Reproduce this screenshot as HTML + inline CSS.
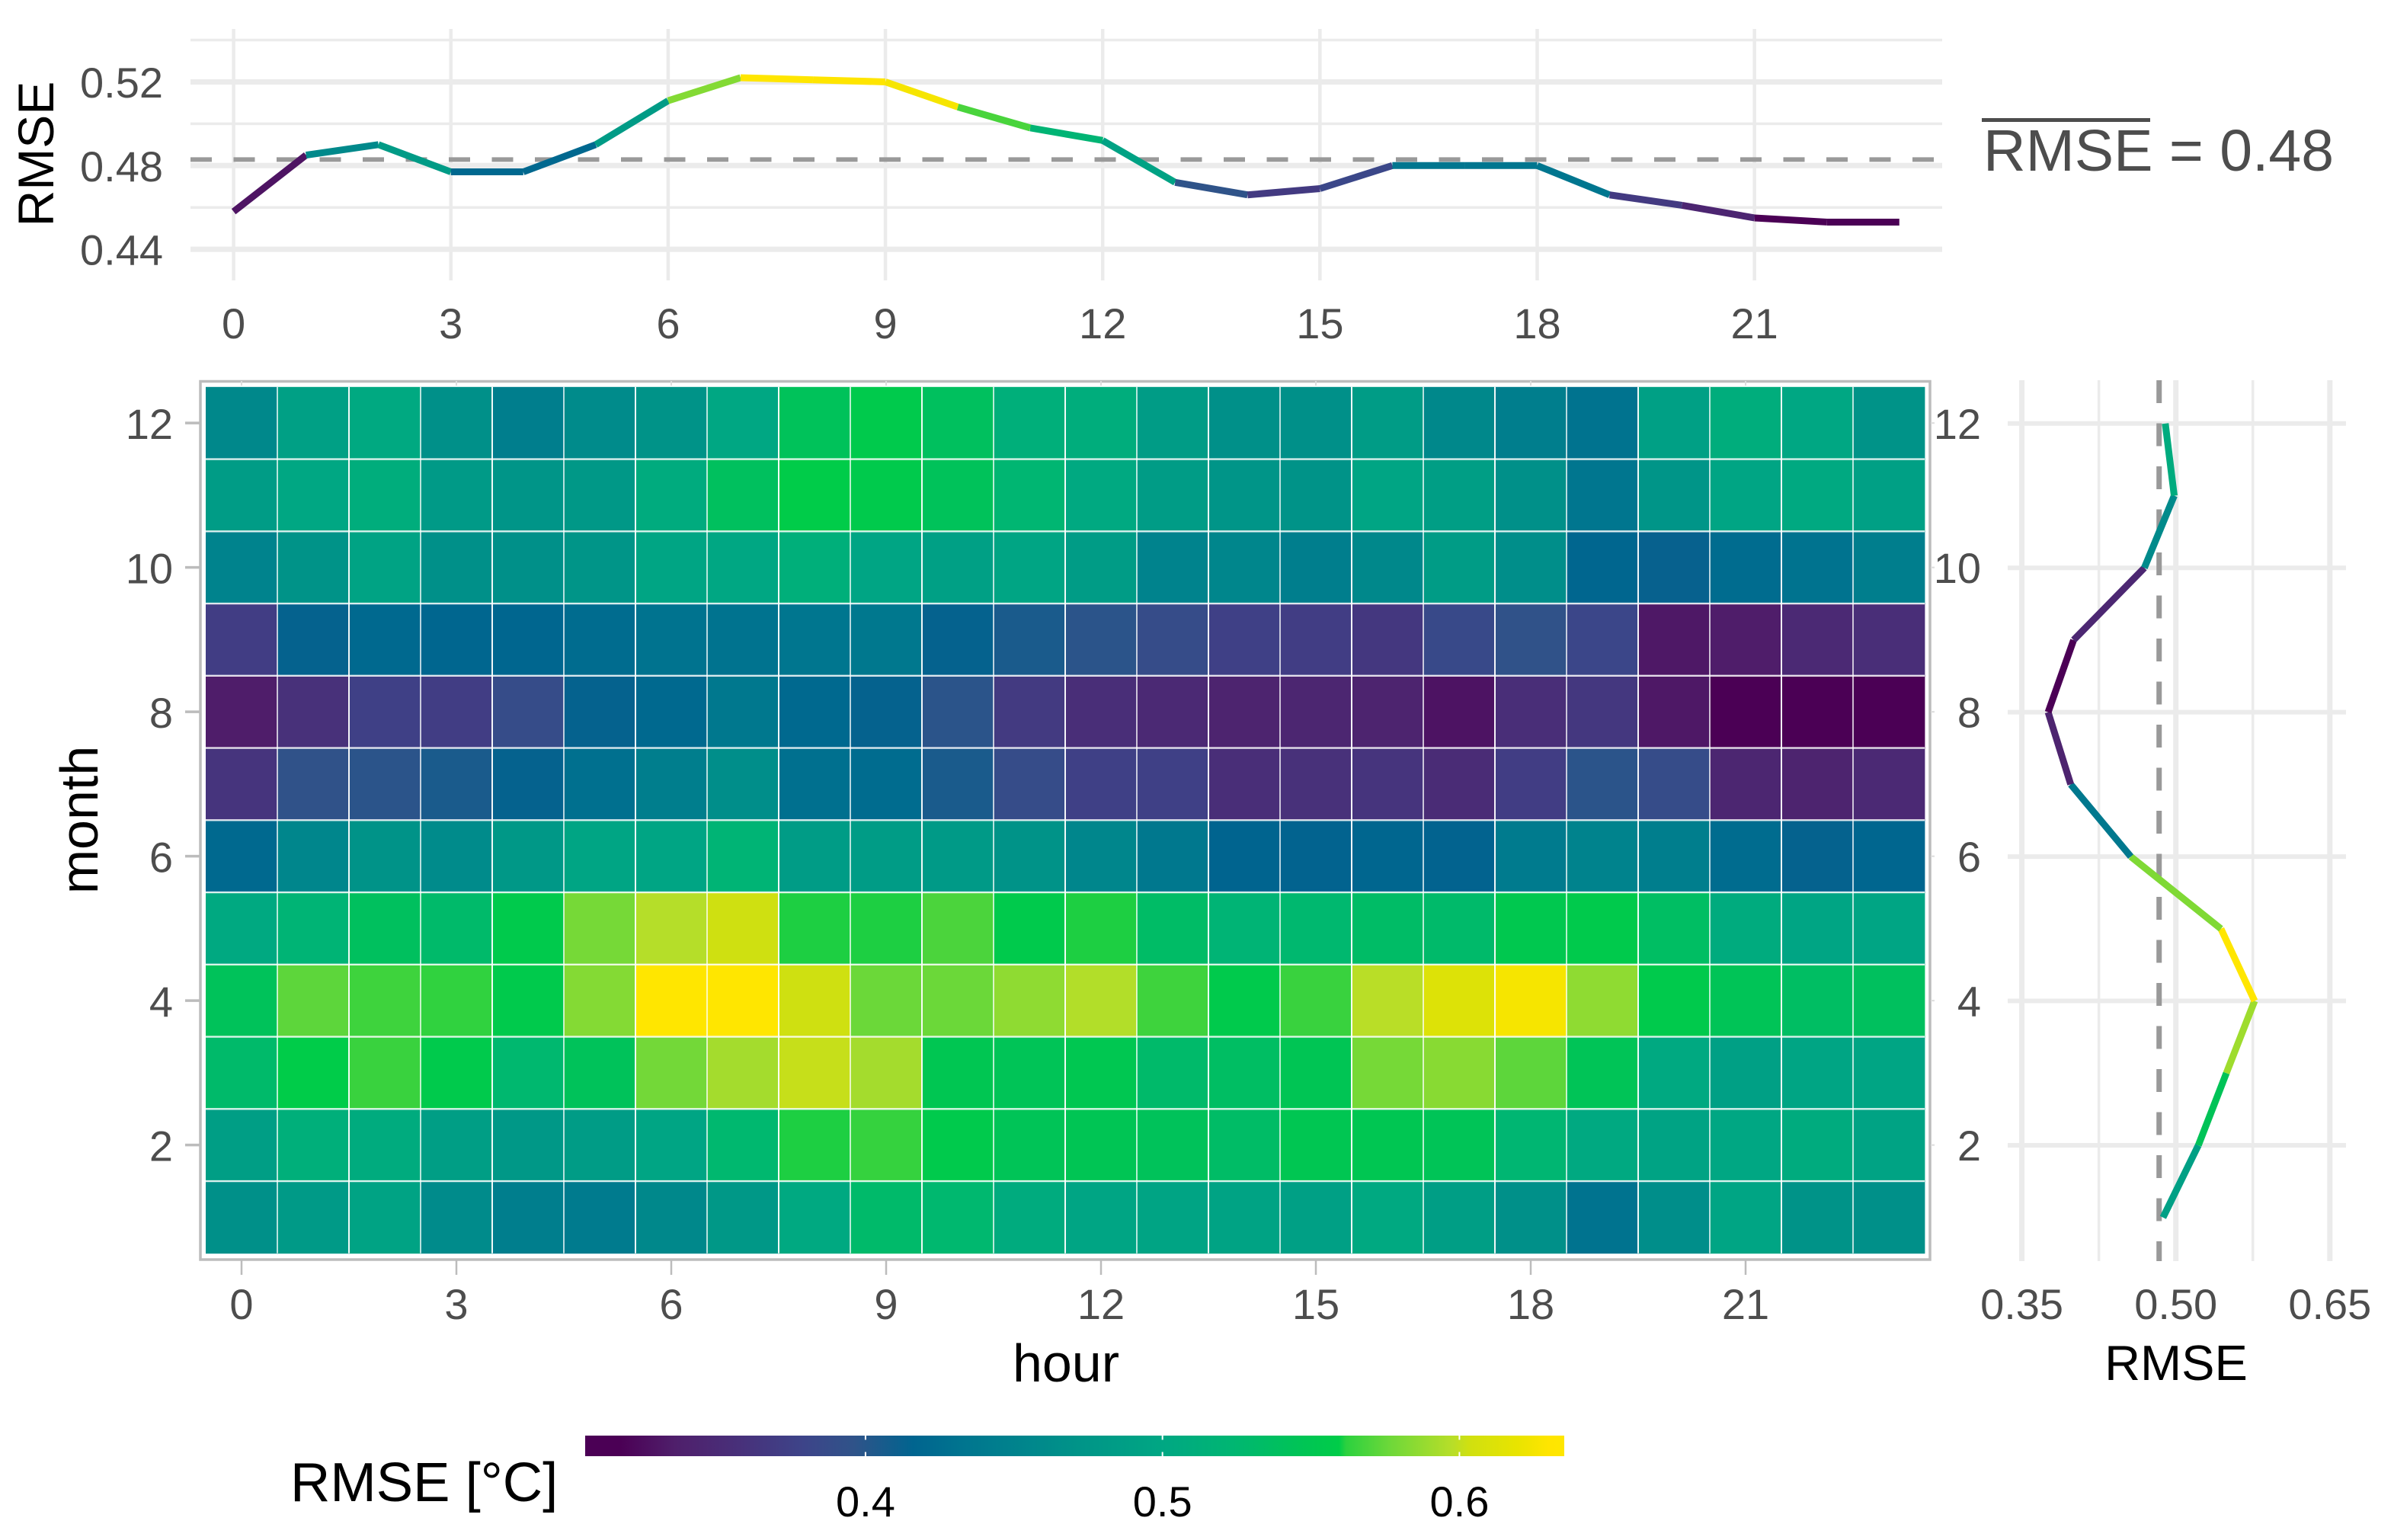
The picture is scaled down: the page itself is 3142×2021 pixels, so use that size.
<!DOCTYPE html>
<html lang="en">
<head>
<meta charset="utf-8">
<title>RMSE by hour and month</title>
<style>
html,body{margin:0;padding:0;background:#fff;}
svg{display:block;}
text{font-family:"Liberation Sans",Arial,sans-serif;}
</style>
</head>
<body>
<svg id="chart" xmlns="http://www.w3.org/2000/svg" width="3142" height="2021" viewBox="0 0 3142 2021">
  <rect x="0" y="0" width="3142" height="2021" fill="#ffffff"/>
  <g id="top-panel"></g>
  <g id="heat-panel"></g>
  <g id="right-panel"></g>
  <g id="legend"></g>

  <text transform="translate(70,202) rotate(-90)" text-anchor="middle" font-size="66" fill="#000">RMSE</text>
  <rect x="2601" y="155" width="221" height="5" fill="#4d4d4d"/>
  <text x="2603" y="224" font-size="77" fill="#4d4d4d">RMSE = 0.48</text>
  <text x="1399" y="1813" text-anchor="middle" font-size="70" fill="#000">hour</text>
  <text transform="translate(128,1076) rotate(-90)" text-anchor="middle" font-size="70" fill="#000">month</text>
  <text x="2856" y="1811" text-anchor="middle" font-size="65" fill="#000">RMSE</text>
  <text x="381" y="1970" font-size="72.5" fill="#000">RMSE [°C]</text>
</svg>

<script>
// ---------- data ----------
const hours = [0,1,2,3,4,5,6,7,8,9,10,11,12,13,14,15,16,17,18,19,20,21,22,23];
const months = [12,11,10,9,8,7,6,5,4,3,2,1];

const hourlyRmse = [0.458,0.485,0.490,0.477,0.477,0.490,0.511,0.522,0.521,0.520,0.508,0.498,0.492,0.472,0.466,0.469,0.480,0.480,0.480,0.466,0.461,0.455,0.453,0.453];
const hourlyMean = 0.4829;
const topXTicks = [0,3,6,9,12,15,18,21];
const topYMajor = [0.44,0.48,0.52];
const topYMinor = [0.46,0.50,0.54];
const topYTickLabels = ["0.44","0.48","0.52"];

const monthlyOrder = [1,2,3,4,5,6,7,8,9,10,11,12];
const monthlyRmse = [0.4875,0.5219,0.5492,0.5767,0.5439,0.4561,0.3976,0.3756,0.4004,0.4693,0.4984,0.4897];
const monthlyMean = 0.4837;
const rightXMajor = [0.35,0.50,0.65];
const rightXMinor = [0.425,0.575];
const rightXTickLabels = ["0.35","0.50","0.65"];
const monthTicks = [12,10,8,6,4,2];

const rmse12 = [.457,.490,.503,.467,.444,.461,.470,.500,.543,.556,.540,.513,.510,.484,.467,.467,.484,.457,.444,.431,.490,.510,.500,.470];
const rmse11 = [.484,.500,.510,.480,.474,.477,.507,.540,.559,.556,.543,.523,.503,.484,.474,.470,.497,.487,.467,.434,.474,.497,.503,.490];
const rmse10 = [.451,.470,.494,.467,.467,.474,.497,.500,.513,.497,.490,.497,.484,.451,.454,.444,.457,.484,.464,.418,.413,.424,.431,.444];
const rmse09 = [.372,.414,.421,.418,.418,.424,.431,.431,.434,.437,.414,.405,.398,.388,.375,.372,.365,.385,.395,.381,.332,.335,.349,.355];
const rmse08 = [.335,.358,.375,.372,.388,.414,.421,.437,.421,.414,.398,.368,.355,.349,.342,.345,.342,.329,.355,.365,.332,.306,.306,.312];
const rmse07 = [.362,.395,.398,.405,.414,.428,.444,.464,.428,.424,.405,.388,.375,.375,.355,.358,.362,.352,.372,.398,.388,.345,.342,.349];
const rmse06 = [.421,.454,.470,.461,.477,.497,.497,.520,.484,.484,.480,.470,.454,.437,.416,.415,.418,.415,.441,.451,.444,.424,.414,.418];
const rmse05 = [.503,.520,.540,.530,.556,.579,.597,.603,.561,.561,.569,.556,.561,.533,.520,.526,.533,.530,.553,.556,.536,.507,.497,.497];
const rmse04 = [.543,.573,.566,.563,.556,.583,.635,.635,.603,.576,.576,.586,.596,.566,.556,.565,.598,.612,.626,.586,.556,.546,.536,.540];
const rmse03 = [.530,.559,.565,.556,.526,.543,.578,.592,.601,.592,.550,.546,.551,.530,.536,.548,.579,.584,.573,.546,.503,.490,.497,.497];
const rmse02 = [.487,.513,.507,.487,.477,.484,.497,.526,.561,.564,.556,.546,.548,.543,.533,.550,.550,.546,.523,.503,.494,.500,.507,.494];
const rmse01 = [.467,.480,.494,.461,.444,.441,.457,.477,.503,.530,.526,.507,.497,.495,.494,.490,.503,.487,.467,.431,.464,.497,.470,.467];
const heatRows = [rmse12,rmse11,rmse10,rmse09,rmse08,rmse07,rmse06,rmse05,rmse04,rmse03,rmse02,rmse01];

const colorDomain = [0.3056,0.6353];
const colorbarTicks = [0.4,0.5,0.6];
const colorbarTickLabels = ["0.4","0.5","0.6"];

// colour ramp: [fraction, colour]
const ramp = [
  [0,"#4b0055"],[0.036,"#4b0055"],[0.092,"#4f1f6b"],[0.157,"#48307a"],[0.223,"#3d4489"],
  [0.275,"#2f5389"],[0.335,"#00648f"],[0.387,"#00758f"],[0.452,"#00868c"],[0.504,"#009488"],
  [0.59,"#00a783"],[0.661,"#00b672"],[0.725,"#00c358"],[0.77,"#00cc48"],[0.777,"#2bd13f"],
  [0.823,"#6fd839"],[0.886,"#b8de28"],[0.903,"#d0e010"],[0.951,"#e8e400"],[0.984,"#ffe500"],[1,"#ffe600"]
];

// ---------- helpers ----------
const NS = "http://www.w3.org/2000/svg";
function make(parent, tag) {
  const el = document.createElementNS(NS, tag);
  parent.appendChild(el);
  return el;
}
function setLine(el, x1, y1, x2, y2, stroke, width) {
  el.setAttribute("x1", x1);
  el.setAttribute("y1", y1);
  el.setAttribute("x2", x2);
  el.setAttribute("y2", y2);
  el.setAttribute("stroke", stroke);
  el.setAttribute("stroke-width", width);
}
function setText(el, x, y, str, size, fill, anchor) {
  el.setAttribute("x", x);
  el.setAttribute("y", y);
  el.setAttribute("font-size", size);
  el.setAttribute("fill", fill);
  el.setAttribute("text-anchor", anchor);
  el.textContent = str;
}
function hexToRgb(h) {
  return [parseInt(h.slice(1,3),16),parseInt(h.slice(3,5),16),parseInt(h.slice(5,7),16)];
}
function rampColor(f) {
  const t = Math.max(0, Math.min(1, f));
  for (let i = 1; i < ramp.length; i++) {
    if (t <= ramp[i][0]) {
      const a = ramp[i-1], b = ramp[i];
      const k = (t - a[0]) / (b[0] - a[0] || 1);
      const ca = hexToRgb(a[1]), cb = hexToRgb(b[1]);
      const c = ca.map((v, j) => Math.round(v + (cb[j] - v) * k));
      return "rgb(" + c.join(",") + ")";
    }
  }
  return ramp[ramp.length-1][1];
}
function domainColor(v) {
  return rampColor((v - colorDomain[0]) / (colorDomain[1] - colorDomain[0]));
}
function seriesColor(v, series) {
  const lo = Math.min(...series), hi = Math.max(...series);
  return rampColor((v - lo) / (hi - lo));
}

const GRID = "#ebebeb";
const TICKTEXT = "#4d4d4d";
const DASH = "#999999";

// ---------- scales ----------
const topX = h => 306.6 + h * 95.05;
const topY = v => 217.3 - (v - 0.48) * 2746;
const heatLeft = 270, heatTop = 507.8, cellW = 94, cellH = 94.75;
const heatX = h => heatLeft + cellW * (h + 0.5);
const heatY = m => heatTop + cellH * (12.5 - m);
const rightX = v => 2855.7 + (v - 0.5) * 1347.5;
const rightY = m => 555.8 + (12 - m) * 94.72;
const barLeft = 768, barRight = 2053, barTop = 1884, barBottom = 1911;
const barX = v => barLeft + (v - colorDomain[0]) / (colorDomain[1] - colorDomain[0]) * (barRight - barLeft);

// ---------- top panel ----------
const topPanel = document.getElementById("top-panel");
topYMinor.forEach(v => {
  const el = make(topPanel, "line");
  setLine(el, 250, topY(v), 2549, topY(v), GRID, 3.5);
  
  
});
topYMajor.forEach((v, i) => {
  const el = make(topPanel, "line");
  setLine(el, 250, topY(v), 2549, topY(v), GRID, 7);
  
  
  const t = make(topPanel, "text");
  setText(t, 214, topY(v) + 20.5, topYTickLabels[i], 56, TICKTEXT, "end");
  
  
});
topXTicks.forEach(h => {
  const el = make(topPanel, "line");
  setLine(el, topX(h), 38, topX(h), 368, GRID, 4.5);
  
  
  const t = make(topPanel, "text");
  setText(t, topX(h), 444, String(h), 56, TICKTEXT, "middle");
  
  
});
const topMeanLine = make(topPanel, "line");
setLine(topMeanLine, 250, topY(hourlyMean), 2540, topY(hourlyMean), DASH, 6);
topMeanLine.setAttribute("stroke-dasharray", "28 28.5");


for (let i = 0; i < hours.length - 1; i++) {
  const seg = make(topPanel, "line");
  setLine(seg, topX(hours[i]), topY(hourlyRmse[i]), topX(hours[i+1]), topY(hourlyRmse[i+1]), seriesColor(hourlyRmse[i], hourlyRmse), 9);
  
  
}

// ---------- heatmap panel ----------
const heatPanel = document.getElementById("heat-panel");
const frame = make(heatPanel, "rect");
frame.setAttribute("x", 263);
frame.setAttribute("y", 500.5);
frame.setAttribute("width", 2270);
frame.setAttribute("height", 1152.5);
frame.setAttribute("fill", "#ffffff");
frame.setAttribute("stroke", "#bcbcbc");
frame.setAttribute("stroke-width", 3.5);



months.forEach((m, r) => {
  hours.forEach((h, c) => {
    const cell = make(heatPanel, "rect");
    cell.setAttribute("x", heatX(h) - cellW / 2);
    cell.setAttribute("y", heatY(m) - cellH / 2);
    cell.setAttribute("width", cellW + 0.4);
    cell.setAttribute("height", cellH + 0.4);
    cell.setAttribute("fill", domainColor(heatRows[r][c]));
    
    
  });
});
// white separators between cells
for (let i = 1; i < hours.length; i++) {
  const sep = make(heatPanel, "line");
  const x = heatLeft + cellW * i;
  setLine(sep, x, heatTop, x, heatTop + cellH * months.length, "#ffffff", 2);
  sep.setAttribute("stroke-opacity", i % 2 ? 0.72 : 0.95);
  
  
}
for (let i = 1; i < months.length; i++) {
  const sep = make(heatPanel, "line");
  const y = heatTop + cellH * i;
  setLine(sep, heatLeft, y, heatLeft + cellW * hours.length, y, "#ffffff", 2.4);
  sep.setAttribute("stroke-opacity", 0.85);
  
  
}
topXTicks.forEach(h => {
  const tick = make(heatPanel, "line");
  setLine(tick, heatX(h), 1653, heatX(h), 1673, "#bcbcbc", 2.5);
  
  
  const topTick = make(heatPanel, "line");
  setLine(topTick, heatX(h), 500, heatX(h), 506, "#dddddd", 2);
  
  
  const t = make(heatPanel, "text");
  setText(t, heatX(h), 1731, String(h), 56, TICKTEXT, "middle");
  
  
});
monthTicks.forEach(m => {
  const y = heatY(m);
  const tick = make(heatPanel, "line");
  setLine(tick, 243, y, 262, y, "#bcbcbc", 3.5);
  
  
  const rtick = make(heatPanel, "line");
  setLine(rtick, 2534, y, 2539, y, "#dddddd", 2);
  
  
  const t = make(heatPanel, "text");
  setText(t, 227, y + 21, String(m), 56, TICKTEXT, "end");
  
  
});

// ---------- right panel ----------
const rightPanel = document.getElementById("right-panel");
rightXMinor.forEach(v => {
  const el = make(rightPanel, "line");
  setLine(el, rightX(v), 499, rightX(v), 1655, GRID, 3.5);
  
  
});
rightXMajor.forEach((v, i) => {
  const el = make(rightPanel, "line");
  setLine(el, rightX(v), 499, rightX(v), 1655, GRID, 7);
  
  
  const t = make(rightPanel, "text");
  setText(t, rightX(v), 1731, rightXTickLabels[i], 56, TICKTEXT, "middle");
  
  
});
monthTicks.forEach(m => {
  const el = make(rightPanel, "line");
  setLine(el, 2635, rightY(m), 3079, rightY(m), GRID, 6);
  
  
  const t = make(rightPanel, "text");
  setText(t, 2600, rightY(m) + 20, String(m), 56, TICKTEXT, "end");
  
  
});
const rightMeanLine = make(rightPanel, "line");
setLine(rightMeanLine, rightX(monthlyMean), 499, rightX(monthlyMean), 1655, DASH, 7);
rightMeanLine.setAttribute("stroke-dasharray", "30 26.5");


for (let i = 0; i < monthlyOrder.length - 1; i++) {
  const seg = make(rightPanel, "line");
  setLine(seg, rightX(monthlyRmse[i]), rightY(monthlyOrder[i]), rightX(monthlyRmse[i+1]), rightY(monthlyOrder[i+1]), seriesColor(monthlyRmse[i], monthlyRmse), 9);
  
  
}

// ---------- colorbar ----------
const legend = document.getElementById("legend");
const defs = make(legend, "defs");
const grad = make(defs, "linearGradient");
grad.setAttribute("id", "viridis-ramp");
grad.setAttribute("x1", "0");
grad.setAttribute("x2", "1");
grad.setAttribute("y1", "0");
grad.setAttribute("y2", "0");
ramp.forEach(s => {
  const stop = make(grad, "stop");
  stop.setAttribute("offset", s[0]);
  stop.setAttribute("stop-color", s[1]);
});
const bar = make(legend, "rect");
bar.setAttribute("x", barLeft);
bar.setAttribute("y", barTop);
bar.setAttribute("width", barRight - barLeft);
bar.setAttribute("height", barBottom - barTop);
bar.setAttribute("fill", "url(#viridis-ramp)");


colorbarTicks.forEach((v, i) => {
  const x = barX(v);
  const up = make(legend, "line");
  setLine(up, x, barTop, x, barTop + 5.5, "#ffffff", 2);
  
  
  const down = make(legend, "line");
  setLine(down, x, barBottom - 5.5, x, barBottom, "#ffffff", 2);
  
  
  const t = make(legend, "text");
  setText(t, x, 1990, colorbarTickLabels[i], 56, "#000000", "middle");
  
  
});
</script>
</body>
</html>
